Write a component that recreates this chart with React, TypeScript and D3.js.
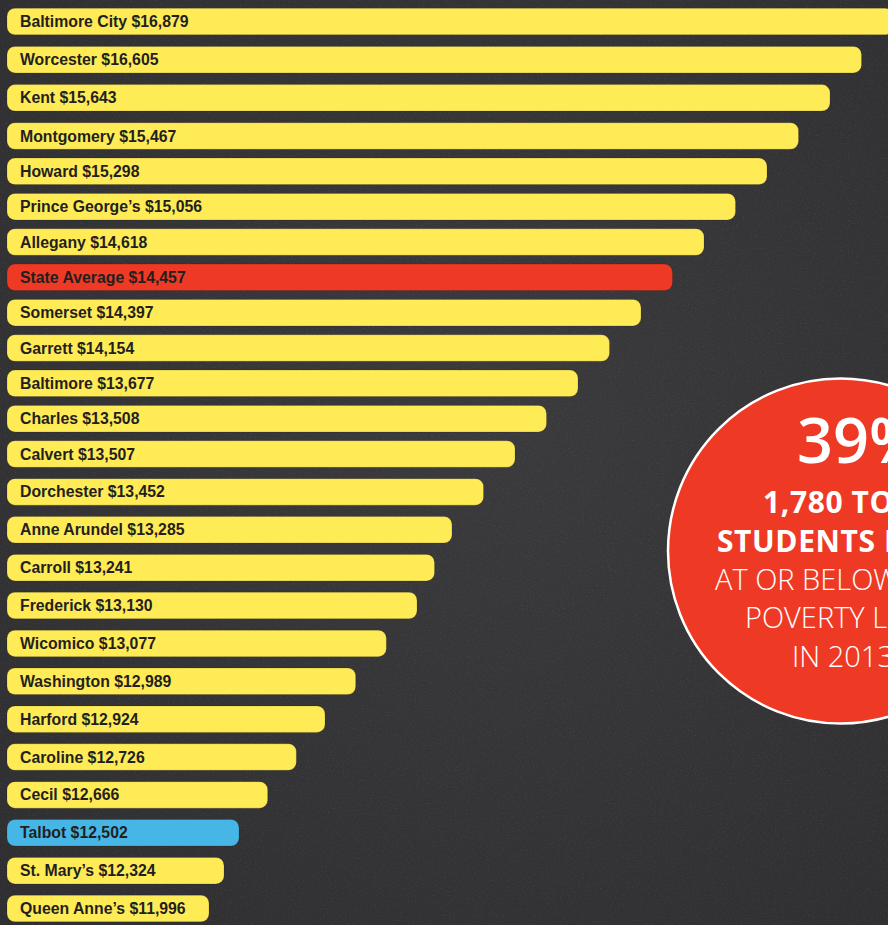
import React, { useEffect, useRef } from "react";
import * as d3 from "d3";

// county per-pupil spending, in the order shown
const counties = [
  "Baltimore City", "Worcester", "Kent", "Montgomery", "Howard", "Prince George’s",
  "Allegany", "State Average", "Somerset", "Garrett", "Baltimore", "Charles",
  "Calvert", "Dorchester", "Anne Arundel", "Carroll", "Frederick", "Wicomico",
  "Washington", "Harford", "Caroline", "Cecil", "Talbot", "St. Mary’s", "Queen Anne’s",
];
const spending = [
  16879, 16605, 15643, 15467, 15298, 15056, 14618, 14457, 14397, 14154, 13677, 13508,
  13507, 13452, 13285, 13241, 13130, 13077, 12989, 12924, 12726, 12666, 12502, 12324, 11996,
];
const highlight: Record<string, string> = { "State Average": "red", Talbot: "blue" };

const calloutBig = "39%";
const calloutBold = ["1,780 TOTAL", "STUDENTS LIVED"];
const calloutLight = ["AT OR BELOW THE", "POVERTY LEVEL", "IN 2013"];

const W = 888;
const H = 925;
const YELLOW = "#ffeb55";
const RED = "#ee3a24";
const BLUE = "#45b6e6";

export default function App() {
  const ref = useRef<SVGSVGElement>(null);

  useEffect(() => {
    const svg = d3.select(ref.current);
    svg.selectAll("*").remove();

    const data = counties.map((name, i) => ({ name, value: spending[i], rank: i }));

    // bars are ranked, not proportional: lengths step down by rank
    const len = d3.scaleLinear()
      .domain([0, 14, 16, 19, 22, 24])
      .range([893, 452, 417, 325, 239, 209]);
    const y = d3.scaleLinear()
      .domain([0, 3, 12, 24])
      .range([21.5, 136, 454, 908.5]);
    const fmt = d3.format("$,");
    const barH = 26.5;
    const x0 = 7;

    // chalkboard
    const defs = svg.append("defs");
    const f = defs.append("filter").attr("id", "chalk").attr("x", 0).attr("y", 0)
      .attr("width", "100%").attr("height", "100%");
    f.append("feTurbulence").attr("type", "fractalNoise").attr("baseFrequency", 0.6)
      .attr("numOctaves", 2).attr("seed", 3).attr("result", "n");
    f.append("feColorMatrix").attr("in", "n").attr("type", "matrix")
      .attr("values", "0 0 0 0 1  0 0 0 0 1  0 0 0 0 1  0 0 0 -2.2 1.0");

    const bg = defs.append("radialGradient").attr("id", "bg").attr("cx", "55%").attr("cy", "45%").attr("r", "75%");
    bg.append("stop").attr("offset", "0%").attr("stop-color", "#3b3a3c");
    bg.append("stop").attr("offset", "100%").attr("stop-color", "#2f2e30");

    svg.append("rect").attr("width", W).attr("height", H).attr("fill", "url(#bg)");
    svg.append("rect").attr("width", W).attr("height", H).attr("filter", "url(#chalk)")
      .attr("opacity", 0.08);

    const g = svg.append("g");
    g.selectAll("rect.bar")
      .data(data)
      .join("rect")
      .attr("class", "bar")
      .attr("x", x0)
      .attr("y", d => y(d.rank) - barH / 2)
      .attr("width", d => len(d.rank) - x0)
      .attr("height", barH)
      .attr("rx", 8)
      .attr("fill", d => highlight[d.name] === "red" ? RED : highlight[d.name] === "blue" ? BLUE : YELLOW)
      .attr("stroke", "rgba(0,0,0,0.18)")
      .attr("stroke-width", 0.8);

    g.selectAll("text.lbl")
      .data(data)
      .join("text")
      .attr("class", "lbl")
      .attr("x", 20)
      .attr("y", d => y(d.rank) + 5.5)
      .attr("font-family", "'Liberation Sans', Arial, sans-serif")
      .attr("font-weight", "bold")
      .attr("font-size", 15.8)
      .attr("fill", "#231f20")
      .text(d => `${d.name} ${fmt(d.value)}`);

    // callout circle
    const cx = 840.5, cy = 551, r = 172.5;
    svg.append("circle").attr("cx", cx).attr("cy", cy).attr("r", r)
      .attr("fill", RED).attr("stroke", "#fff").attr("stroke-width", 2.5);

    const font = "'Open Sans', 'Noto Sans', sans-serif";
    svg.append("text").attr("x", 797).attr("y", 463)
      .attr("font-family", font).attr("font-size", 63).attr("font-weight", 600)
      .attr("fill", "#fff").text(calloutBig);

    const boldX = [763, 717];
    const boldY = [513, 552];
    calloutBold.forEach((t, i) => {
      svg.append("text").attr("x", boldX[i]).attr("y", boldY[i])
        .attr("font-family", font).attr("font-size", 30).attr("font-weight", 700)
        .attr("letter-spacing", 0.6)
        .attr("fill", "#fff").text(t);
    });

    const lightX = [715, 745, 792];
    const lightY = [590, 628, 667];
    calloutLight.forEach((t, i) => {
      svg.append("text").attr("x", lightX[i]).attr("y", lightY[i])
        .attr("font-family", font).attr("font-size", 29).attr("font-weight", 300)
        .attr("fill", "#fff").text(t);
    });
  }, []);

  return (
    <svg
      ref={ref}
      width={W}
      height={H}
      style={{ position: "absolute", left: 0, top: 0, display: "block" }}
    />
  );
}
